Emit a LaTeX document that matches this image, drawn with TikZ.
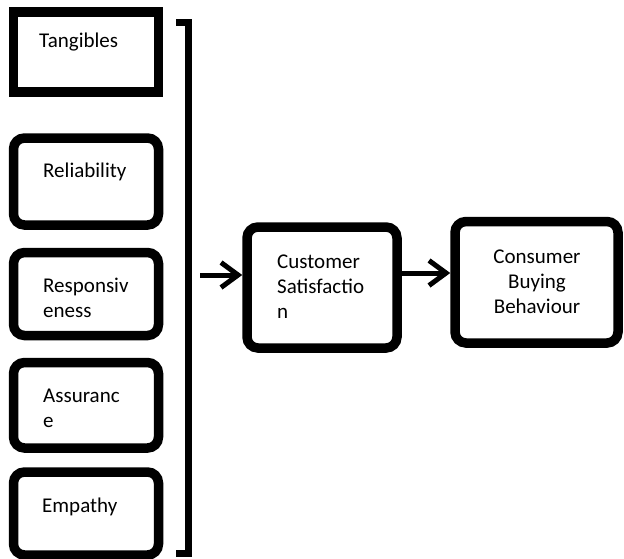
\documentclass[tikz,border=0pt]{standalone}
\usepackage{fontspec}
\setmainfont{Carlito}
\usetikzlibrary{arrows.meta}
\tikzset{
  sqbox/.style={draw=black, line width=9.5pt, minimum width=145pt, inner sep=0pt, fill=white},
  rbox/.style={sqbox, rounded corners=11pt},
  lbl/.style={font=\fontsize{21}{25}\selectfont, inner sep=0pt, anchor=base west, align=left},
  conn/.style={line width=5pt, -{Straight Barb[length=17pt,width=25pt,line width=5pt]}},
  brk/.style={line width=7pt, line join=miter}
}
\begin{document}
\begin{tikzpicture}[x=1pt,y=-1pt]
\useasboundingbox (0,0) rectangle (624,558);
% left boxes
\node[sqbox, minimum height=80pt] (tan) at (86,52) {};
\node[rbox, minimum height=87pt] (rel) at (86,181.5) {};
\node[rbox, minimum height=83pt] (res) at (86,294) {};
\node[rbox, minimum height=85.5pt] (ass) at (86,405.25) {};
\node[rbox, minimum height=83pt] (emp) at (86,513.5) {};
% right boxes
\node[rbox, minimum width=150pt, minimum height=121pt] (cs) at (322,287.5) {};
\node[rbox, minimum width=163pt, minimum height=121.5pt] (cbb) at (536.5,282.25) {};
% labels (base anchor = baseline of the last line)
\node[lbl] (tant) at (39,47) {Tangibles};
\node[lbl] (relt) at (43,177) {Reliability};
\node[lbl] (rest) at (43,317) {Responsiv\\eness};
\node[lbl] (asst) at (43,427) {Assuranc\\e};
\node[lbl] (empt) at (42,512) {Empathy};
\node[lbl] (cst) at (277,318) {Customer\\Satisfactio\\n};
\node[lbl, anchor=base, align=center] (cbbt) at (537,313) {Consumer\\Buying\\Behaviour};
% bracket
\coordinate (bt) at (176,22.5);
\coordinate (bb) at (176,553);
\draw[brk] (bt) -- (188.5,22.5) -- (188.5,553) -- (bb);
% arrows
\coordinate (a1) at (200,275);
\draw[conn] (a1) -- (cs.west |- a1);
\draw[conn] (cs.east |- 0,273) -- (cbb.west |- 0,273);
\end{tikzpicture}
\end{document}
